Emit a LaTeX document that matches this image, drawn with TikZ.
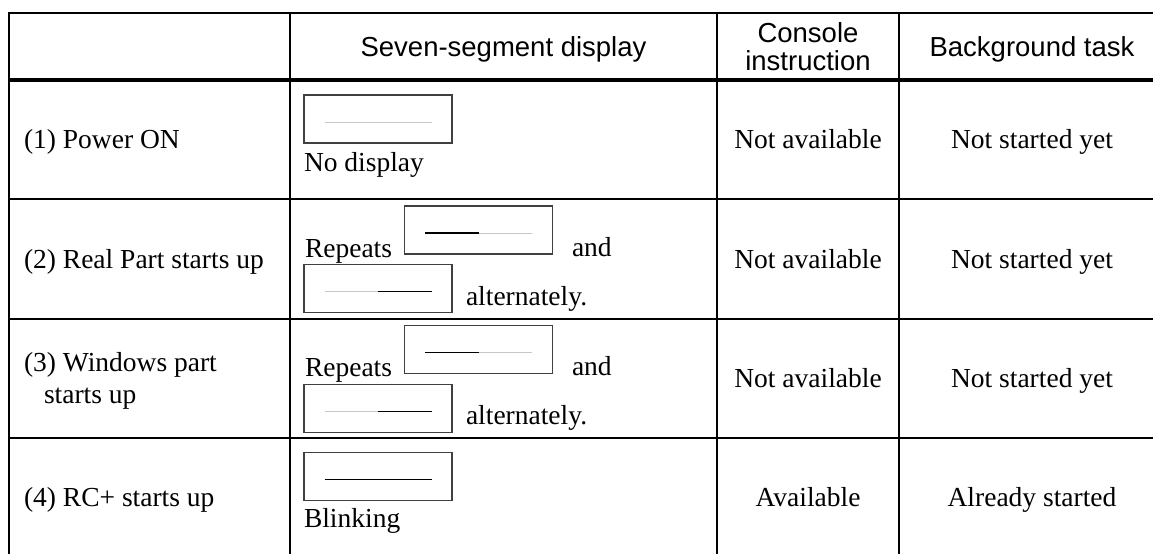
\documentclass[tikz,border=0pt]{standalone}
\usepackage{fontspec}
\setmainfont{Liberation Serif}
\newfontfamily\headfont{Liberation Sans}
\usetikzlibrary{calc}
\begin{document}
\begin{tikzpicture}[x=1pt,y=-1pt,
  rule/.style={line width=2.8pt,black},
  headrule/.style={line width=4.5pt,black},
  cell/.style={inner sep=0pt,outer sep=0pt,font=\fontsize{27.5}{31.6}\selectfont},
  head/.style={inner sep=0pt,outer sep=0pt,align=center,font=\headfont\fontsize{27.5}{28}\selectfont},
  segbox/.style={draw=black!75,line width=1.2pt,minimum width=148pt,minimum height=48pt,inner sep=0pt},
  segon/.style={line width=1.3pt,black},
  segoff/.style={line width=1pt,black!22},
]
\useasboundingbox (0,0) rectangle (1153,554);

% table rules
\draw[rule] (9,554) -- (9,13) -- (1153,13);
\draw[headrule] (7.6,80) -- (1153,80);
\foreach \yy in {199,319,438} \draw[rule] (7.6,\yy) -- (1153,\yy);
\foreach \xx in {290,717,899} \draw[rule] (\xx,13) -- (\xx,554);

% header row
\node[head,anchor=base] (hdisp) at (503.5,56.5) {Seven-segment display};
\node[head,anchor=center] (hcons) at (808,46.5) {Console\\instruction};
\node[head,anchor=base] (hback) at (1032,56.5) {Background task};

% first column
\node[cell,anchor=base west] (s1) at (24,148.5) {(1) Power ON};
\node[cell,anchor=base west] (s2) at (24,268) {(2) Real Part starts up};
\node[cell,anchor=base west] (s3a) at (24,371.5) {(3) Windows part};
\node[cell,anchor=base west] (s3b) at (44,403.5) {starts up};
\node[cell,anchor=base west] (s4) at (24,506.5) {(4) RC+ starts up};

% seven-segment column
% (1) blank display
\node[segbox] (d1) at (378,119) {};
\draw[segoff] ($(d1.center)+(-53.5,3)$) -- ($(d1.center)+(53.5,3)$);
\node[cell,anchor=base west] (t1) at (304,171) {No display};

% (2) alternating halves
\node[cell,anchor=base west] (r2) at (305,257) {Repeats};
\node[segbox] (d2a) at (478.5,230) {};
\draw[segon] ($(d2a.center)+(-53.5,3)$) -- ($(d2a.center)+(0,3)$);
\draw[segoff] ($(d2a.center)+(0,3)$) -- ($(d2a.center)+(53.5,3)$);
\node[cell,anchor=base west] (a2) at (572,256) {and};
\node[segbox] (d2b) at (378,288.5) {};
\draw[segoff] ($(d2b.center)+(-53.5,3)$) -- ($(d2b.center)+(0,3)$);
\draw[segon] ($(d2b.center)+(0,3)$) -- ($(d2b.center)+(53.5,3)$);
\node[cell,anchor=base west] (l2) at (466,305) {alternately.};

% (3) alternating halves
\node[cell,anchor=base west] (r3) at (305,376.5) {Repeats};
\node[segbox] (d3a) at (478.5,349.5) {};
\draw[segon] ($(d3a.center)+(-53.5,3)$) -- ($(d3a.center)+(0,3)$);
\draw[segoff] ($(d3a.center)+(0,3)$) -- ($(d3a.center)+(53.5,3)$);
\node[cell,anchor=base west] (a3) at (572,375.5) {and};
\node[segbox] (d3b) at (378,408.5) {};
\draw[segoff] ($(d3b.center)+(-53.5,3)$) -- ($(d3b.center)+(0,3)$);
\draw[segon] ($(d3b.center)+(0,3)$) -- ($(d3b.center)+(53.5,3)$);
\node[cell,anchor=base west] (l3) at (466,424.5) {alternately.};

% (4) full line
\node[segbox] (d4) at (378,476.5) {};
\draw[segon] ($(d4.center)+(-53.5,3)$) -- ($(d4.center)+(53.5,3)$);
\node[cell,anchor=base west] (t4) at (304,527) {Blinking};

% console instruction column
\node[cell,anchor=base] (c1) at (808,148.5) {Not available};
\node[cell,anchor=base] (c2) at (808,268) {Not available};
\node[cell,anchor=base] (c3) at (808,387.5) {Not available};
\node[cell,anchor=base] (c4) at (808,506.5) {Available};

% background task column
\node[cell,anchor=base] (b1) at (1032,148.5) {Not started yet};
\node[cell,anchor=base] (b2) at (1032,268) {Not started yet};
\node[cell,anchor=base] (b3) at (1032,387.5) {Not started yet};
\node[cell,anchor=base] (b4) at (1032,506.5) {Already started};
\end{tikzpicture}
\end{document}
